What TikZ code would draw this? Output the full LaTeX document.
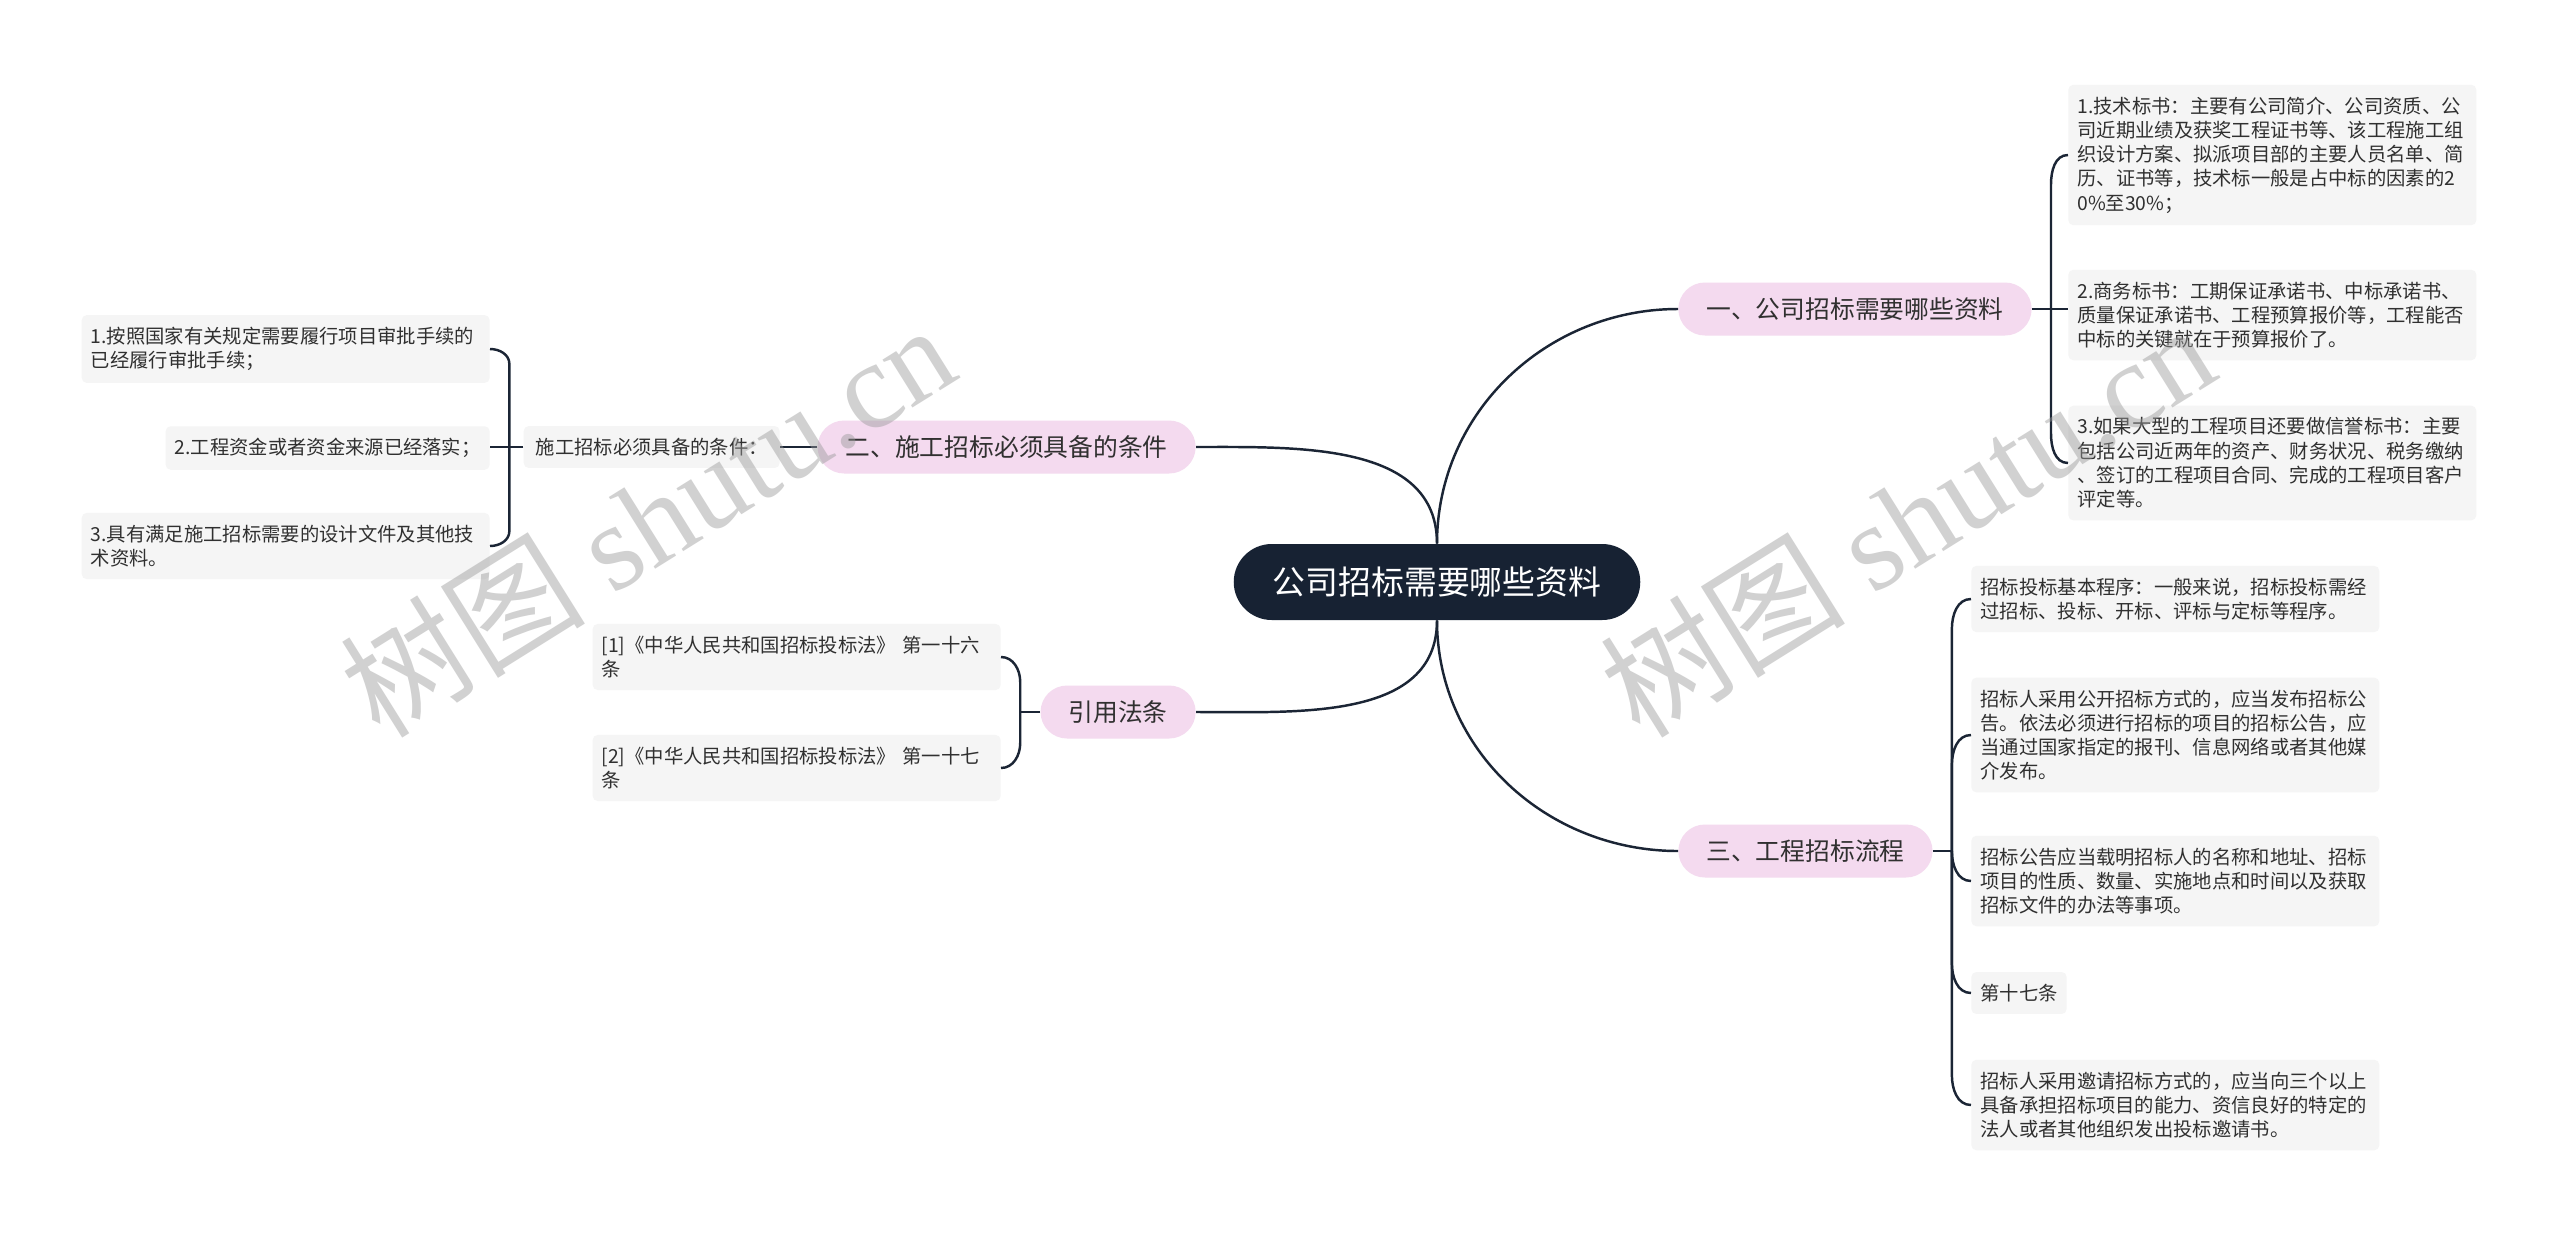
\documentclass[tikz,border=0pt]{standalone}
\usepackage{fontspec}
\setmainfont{Noto Sans CJK SC}
\newfontfamily\wmfont{Liberation Serif}
\usetikzlibrary{calc}
\definecolor{rootblue}{HTML}{172233}
\definecolor{topicpink}{HTML}{F4DAEF}
\definecolor{leafgray}{HTML}{F5F5F5}
\definecolor{linecol}{HTML}{1B2535}
\definecolor{textcol}{HTML}{303030}
\tikzset{
  rootnode/.style={fill=rootblue, text=white, rounded corners=0.76cm, minimum height=1.52cm, inner xsep=0.78cm, font=\fontsize{18.7pt}{22pt}\selectfont},
  topic/.style={fill=topicpink, text=textcol, rounded corners=0.53cm, minimum height=1.06cm, inner xsep=0.56cm, font=\fontsize{14.1pt}{17pt}\selectfont},
  leaf/.style={fill=leafgray, text=textcol, rounded corners=0.1cm, inner xsep=0.18cm, inner ysep=0.24cm, font=\fontsize{11pt}{13.8pt}\selectfont},
  wide/.style={text width=7.8cm, align=left},
  link/.style={draw=linecol, line width=1.4pt},
  wm/.style={text=black!40, opacity=0.45, rotate=32, font=\fontsize{70pt}{80pt}\selectfont},
}
\begin{document}
\begin{tikzpicture}[x=0.02cm, y=-0.02cm]
  \fill[white] (0,0) rectangle (2560,1235);
  \useasboundingbox (0,0) rectangle (2560,1235);

  \node[rootnode] (root) at (1437,582) {公司招标需要哪些资料};

  \node[topic, anchor=west] (t1) at (1678,309) {一、公司招标需要哪些资料};
  \node[topic, anchor=west] (t3) at (1678,851) {三、工程招标流程};
  \node[topic, anchor=east] (t2) at (1196,447) {二、施工招标必须具备的条件};
  \node[topic, anchor=east] (t4) at (1196,712) {引用法条};

  \node[leaf, anchor=west, wide] (r1) at (2068,155) {1.技术标书：主要有公司简介、公司资质、公\\司近期业绩及获奖工程证书等、该工程施工组\\织设计方案、拟派项目部的主要人员名单、简\\历、证书等，技术标一般是占中标的因素的2\\0\%至30\%；};
  \node[leaf, anchor=west, wide] (r2) at (2068,315) {2.商务标书：工期保证承诺书、中标承诺书、\\质量保证承诺书、工程预算报价等，工程能否\\中标的关键就在于预算报价了。};
  \node[leaf, anchor=west, wide] (r3) at (2068,463) {3.如果大型的工程项目还要做信誉标书：主要\\包括公司近两年的资产、财务状况、税务缴纳\\、签订的工程项目合同、完成的工程项目客户\\评定等。};

  \node[leaf, anchor=west, wide] (p1) at (1971,599) {招标投标基本程序：一般来说，招标投标需经\\过招标、投标、开标、评标与定标等程序。};
  \node[leaf, anchor=west, wide] (p2) at (1971,735) {招标人采用公开招标方式的，应当发布招标公\\告。依法必须进行招标的项目的招标公告，应\\当通过国家指定的报刊、信息网络或者其他媒\\介发布。};
  \node[leaf, anchor=west, wide] (p3) at (1971,881) {招标公告应当载明招标人的名称和地址、招标\\项目的性质、数量、实施地点和时间以及获取\\招标文件的办法等事项。};
  \node[leaf, anchor=west] (p4) at (1971,993) {第十七条};
  \node[leaf, anchor=west, wide] (p5) at (1971,1105) {招标人采用邀请招标方式的，应当向三个以上\\具备承担招标项目的能力、资信良好的特定的\\法人或者其他组织发出投标邀请书。};

  \node[leaf, anchor=east, inner xsep=0.24cm] (cond) at (780,447) {施工招标必须具备的条件：};
  \node[leaf, anchor=east, wide] (l1) at (490,349) {1.按照国家有关规定需要履行项目审批手续的\\已经履行审批手续；};
  \node[leaf, anchor=east] (l2) at (490,448) {2.工程资金或者资金来源已经落实；};
  \node[leaf, anchor=east, wide] (l3) at (490,546) {3.具有满足施工招标需要的设计文件及其他技\\术资料。};

  \node[leaf, anchor=east, wide] (c1) at (1001,657) {[1]《中华人民共和国招标投标法》 第一十六\\条};
  \node[leaf, anchor=east, wide] (c2) at (1001,768) {[2]《中华人民共和国招标投标法》 第一十七\\条};

  \draw[link] (root.north) to[out=90, in=180] (t1.west);
  \draw[link] (root.north) to[out=90, in=0] (t2.east);
  \draw[link] (root.south) to[out=-90, in=0] (t4.east);
  \draw[link] (root.south) to[out=-90, in=180] (t3.west);

  \coordinate (b1) at ([xshift=0.38cm]t1.east);
  \draw[link] (t1.east) -- (t1.east -| r2.west);
  \draw[link] (b1) -- ($(b1 |- r1.west)+(0,30)$) to[out=90, in=180] (r1.west);
  \draw[link] (b1) -- ($(b1 |- r3.west)+(0,-30)$) to[out=-90, in=180] (r3.west);

  \coordinate (b3) at ([xshift=0.38cm]t3.east);
  \draw[link] (t3.east) -- (b3);
  \draw[link] (b3) -- ($(b3 |- p1.west)+(0,30)$) to[out=90, in=180] (p1.west);
  \draw[link] (b3) -- ($(b3 |- p2.west)+(0,30)$) to[out=90, in=180] (p2.west);
  \draw[link] (b3) to[out=-90, in=180] (p3.west);
  \draw[link] (b3) -- ($(b3 |- p4.west)+(0,-30)$) to[out=-90, in=180] (p4.west);
  \draw[link] (b3) -- ($(b3 |- p5.west)+(0,-30)$) to[out=-90, in=180] (p5.west);

  \draw[link] (t2.west) -- (cond.east);
  \coordinate (b2) at ([xshift=-0.28cm]cond.west);
  \draw[link] (cond.west) -- (cond.west -| l2.east);
  \draw[link] (b2) -- ($(b2 |- l1.east)+(0,15)$) to[out=90, in=0] (l1.east);
  \draw[link] (b2) -- ($(b2 |- l3.east)+(0,-15)$) to[out=-90, in=0] (l3.east);

  \coordinate (b4) at ([xshift=-0.4cm]t4.west);
  \draw[link] (t4.west) -- (b4);
  \draw[link] (b4) -- ($(b4 |- c1.east)+(0,25)$) to[out=90, in=0] (c1.east);
  \draw[link] (b4) -- ($(b4 |- c2.east)+(0,-25)$) to[out=-90, in=0] (c2.east);

  \node[wm] (wm1) at (647,519) {树图 {\wmfont shutu.cn}};
  \node[wm] (wm2) at (1907,519) {树图 {\wmfont shutu.cn}};
\end{tikzpicture}
\end{document}
